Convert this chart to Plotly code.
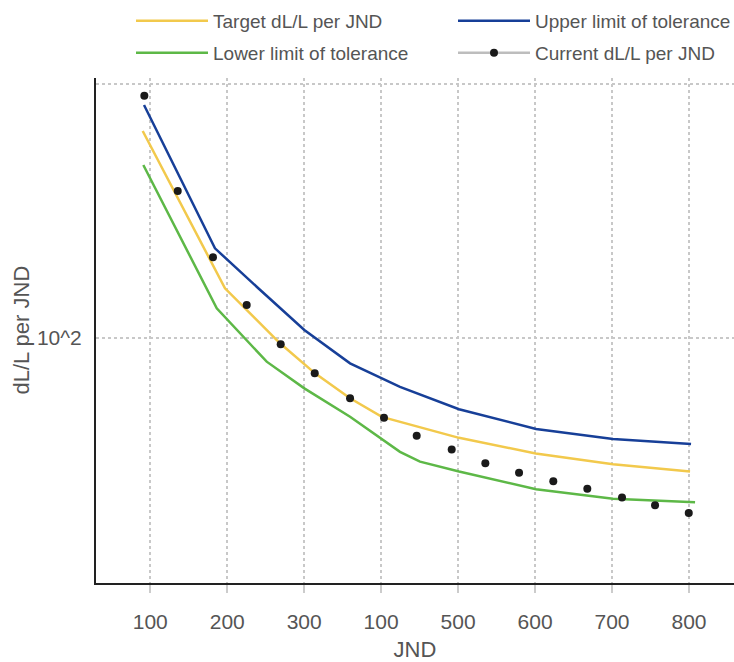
import plotly.graph_objects as go

# ---- data ----
dot_jnd = [92.3, 135.7, 181.5, 225.3, 269.5, 313.7, 359.6, 403.7, 446.2, 491.7,
           535.4, 579.2, 623.7, 667.9, 713.0, 755.9, 799.7]
dot_val = [899.2, 378.5, 207.2, 134.4, 94.0, 72.2, 57.6, 48.3, 41.0, 36.2,
           31.9, 29.3, 27.1, 25.3, 23.4, 21.8, 20.3]

upper_jnd = [91.9, 184.1, 240.4, 300.2, 359.6, 424.5, 501.2, 601.3, 701.3, 802.7]
upper_val = [826.4, 224.8, 156.4, 107.1, 79.1, 63.9, 52.1, 43.6, 39.8, 38.0]

target_jnd = [90.2, 197.1, 268.6, 314.1, 359.6, 401.0, 501.2, 600.9, 701.3, 801.4]
target_val = [652.7, 156.4, 94.9, 72.2, 57.6, 48.6, 40.2, 34.9, 31.6, 29.6]

lower_jnd = [91.0, 186.4, 251.3, 300.2, 359.6, 424.5, 450.5, 501.2, 601.3, 701.3, 807.9]
lower_val = [479.0, 130.4, 80.3, 63.0, 48.7, 35.4, 32.4, 29.6, 25.2, 23.1, 22.4]

x_tickvals = [100, 200, 300, 400, 500, 600, 700, 800]
x_ticktext = ["100", "200", "300", "100", "500", "600", "700", "800"]
y_tickvals = [100, 1000]
y_ticktext = ["10^2", ""]

names = ["Target dL/L per JND", "Upper limit of tolerance",
         "Lower limit of tolerance", "Current dL/L per JND"]

FONT = "Liberation Sans, Arial, sans-serif"
TXT = "#555555"

# points separated by gaps so the connecting line only shows in the legend
dot_x, dot_y = [], []
for xv, yv in zip(dot_jnd, dot_val):
    dot_x += [xv, None]
    dot_y += [yv, None]

fig = go.Figure()
fig.add_trace(go.Scatter(x=target_jnd, y=target_val, mode="lines", name=names[0],
                         legend="legend",
                         line=dict(color="#F2C94C", width=2.5)))
fig.add_trace(go.Scatter(x=upper_jnd, y=upper_val, mode="lines", name=names[1],
                         legend="legend2",
                         line=dict(color="#173F98", width=2.5)))
fig.add_trace(go.Scatter(x=lower_jnd, y=lower_val, mode="lines", name=names[2],
                         legend="legend3",
                         line=dict(color="#5DB847", width=2.5)))
fig.add_trace(go.Scatter(x=dot_x, y=dot_y, mode="lines+markers", name=names[3],
                         legend="legend4",
                         connectgaps=False,
                         line=dict(color="#BDBDBD", width=2.5),
                         marker=dict(color="#1A1A1A", size=8)))

leg_common = dict(orientation="v", xref="container", yref="container",
                  xanchor="left", yanchor="top", itemwidth=72,
                  font=dict(size=19, color=TXT, family=FONT),
                  bgcolor="rgba(0,0,0,0)")

H = 662.0
col1, col2 = 131 / 734, 453 / 734
row1, row2 = 1 - 2 / H, 1 - 34 / H

fig.update_layout(
    width=734, height=662,
    margin=dict(l=96, r=0, t=78, b=79, autoexpand=False),
    paper_bgcolor="white", plot_bgcolor="white",
    font=dict(family=FONT, color=TXT, size=19),
    showlegend=True,
    legend=dict(x=col1, y=row1, **leg_common),
    legend2=dict(x=col2, y=row1, **leg_common),
    legend3=dict(x=col1, y=row2, **leg_common),
    legend4=dict(x=col2, y=row2, **leg_common),
    xaxis=dict(range=[29.5, 858.5], tickvals=x_tickvals, ticktext=x_ticktext,
               showgrid=True, gridcolor="#C8C8C8", griddash="dot", gridwidth=1.5,
               showline=True, linecolor="#222222", linewidth=2,
               ticks="outside", ticklen=8, tickcolor="#CCCCCC", tickwidth=1.5,
               tickfont=dict(size=21, color=TXT), ticklabelstandoff=11,
               title=dict(text="JND", font=dict(size=22, color=TXT), standoff=10),
               zeroline=False),
    yaxis=dict(type="log", range=[1.0316, 3.0237], tickvals=y_tickvals, ticktext=y_ticktext,
               showgrid=True, gridcolor="#C8C8C8", griddash="dot", gridwidth=1.5,
               showline=True, linecolor="#222222", linewidth=2,
               ticks="", tickfont=dict(size=21, color=TXT), ticklabelstandoff=8,
               zeroline=False),
    annotations=[dict(text="dL/L per JND", textangle=-90, showarrow=False,
                      xref="paper", yref="paper", x=(21 - 96) / 638, y=0.5,
                      xanchor="center", yanchor="middle",
                      font=dict(size=22, color=TXT, family=FONT))],
)

fig.write_html("out.html", config={"displayModeBar": False},
               post_script="document.body.style.margin='0';document.body.style.padding='0';")
